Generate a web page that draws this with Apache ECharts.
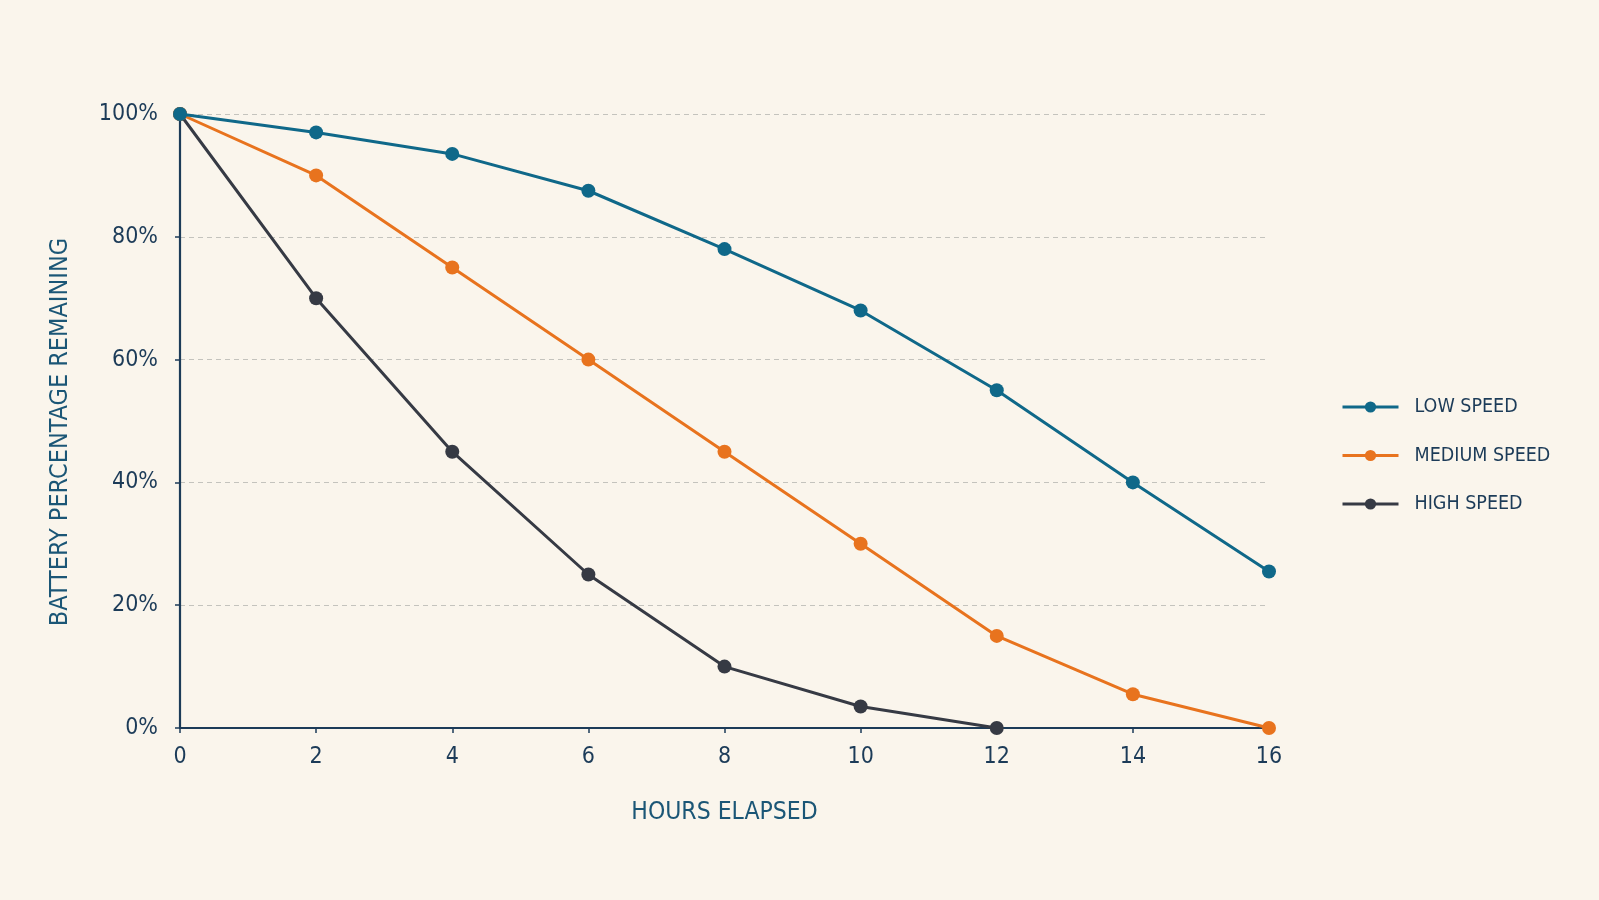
<!DOCTYPE html>
<html>
<head>
<meta charset="utf-8">
<script src="https://cdn.jsdelivr.net/npm/echarts@6/dist/echarts.min.js"></script>
<style>
html,body{margin:0;padding:0;background:#faf5ec;}
#chart{width:1599px;height:900px;}
</style>
</head>
<body>
<div id="chart"></div>
<script>
const hours = [0, 2, 4, 6, 8, 10, 12, 14, 16];
const lowSpeed = [100, 97, 93.5, 87.5, 78, 68, 55, 40, 25.5];
const mediumSpeed = [100, 90, 75, 60, 45, 30, 15, 5.5, 0];
const highSpeed = [100, 70, 45, 25, 10, 3.5, 0];
const seriesNames = ['LOW SPEED', 'MEDIUM SPEED', 'HIGH SPEED'];
const yTicks = [0, 20, 40, 60, 80, 100];

const colors = ['#0f6889', '#e8731e', '#363a44'];
const navy = '#1c3b58';
const teal = '#1b5676';
const font = '"DejaVu Sans Condensed", "DejaVu Sans", sans-serif';

function pairs(vals) { return vals.map((v, i) => [hours[i], v]); }

const chart = echarts.init(document.getElementById('chart'));
chart.setOption({
  backgroundColor: '#faf5ec',
  animation: false,
  grid: { left: 180, right: 330, top: 114, bottom: 172, containLabel: false },
  legend: {
    orient: 'vertical',
    left: 1336,
    top: 392,
    itemWidth: 56,
    itemHeight: 14,
    itemGap: 28.5,
    data: seriesNames,
    lineStyle: { width: 3 },
    textStyle: { color: navy, fontSize: 19.5, fontFamily: font, padding: [0, 0, 0, 11] }
  },
  xAxis: {
    type: 'value', min: 0, max: 16, interval: 2,
    name: 'HOURS ELAPSED', nameLocation: 'middle', nameGap: 72,
    nameTextStyle: { color: teal, fontSize: 24.5, fontFamily: font },
    axisLine: { show: true, lineStyle: { color: navy, width: 2.2 } },
    axisTick: { show: true, length: 5, lineStyle: { color: navy, width: 1.5 } },
    axisLabel: { color: navy, fontSize: 23, fontFamily: font, margin: 18 },
    splitLine: { show: false }
  },
  yAxis: {
    type: 'value', min: 0, max: 100, interval: 20,
    name: 'BATTERY PERCENTAGE REMAINING', nameLocation: 'middle', nameGap: 107,
    nameTextStyle: { color: teal, fontSize: 25, fontFamily: font, padding: [0, 22, 0, 0] },
    axisLine: { show: true, lineStyle: { color: navy, width: 2.2 } },
    axisTick: { show: true, length: 5, lineStyle: { color: navy, width: 1.5 } },
    axisLabel: { color: navy, fontSize: 23, fontFamily: font, margin: 22,
      formatter: v => yTicks.includes(v) ? v + '%' : '' },
    splitLine: { show: true, lineStyle: { color: '#c4c3bd', type: [5, 4], width: 1 } }
  },
  series: [
    { name: seriesNames[0], type: 'line', data: pairs(lowSpeed), color: colors[0],
      symbol: 'circle', symbolSize: 14, lineStyle: { width: 3 }, z: 4 },
    { name: seriesNames[1], type: 'line', data: pairs(mediumSpeed), color: colors[1],
      symbol: 'circle', symbolSize: 14, lineStyle: { width: 3 }, z: 3 },
    { name: seriesNames[2], type: 'line', data: pairs(highSpeed), color: colors[2],
      symbol: 'circle', symbolSize: 14, lineStyle: { width: 3 }, z: 2 }
  ]
});
</script>
</body>
</html>
